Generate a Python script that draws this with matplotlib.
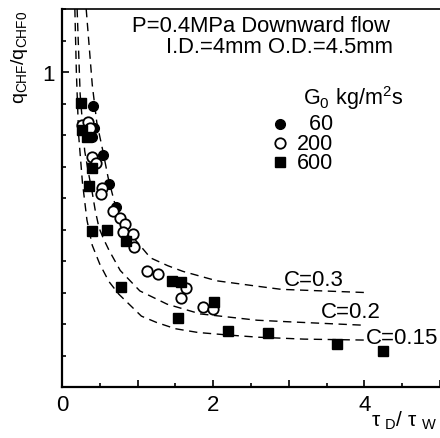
import matplotlib
matplotlib.use("Agg")
import matplotlib.pyplot as plt
import matplotlib.transforms as mtransforms
from matplotlib.ticker import MultipleLocator, FixedLocator, FuncFormatter

plt.rcParams['font.family'] = 'Liberation Sans'
plt.rcParams['mathtext.fontset'] = 'custom'
plt.rcParams['mathtext.rm'] = 'Liberation Sans'

# Datos
# G0 = 60 (circulo lleno)
x60 = [0.41, 0.42, 0.40, 0.54, 0.62, 0.72]
y60 = [0.892, 0.823, 0.794, 0.737, 0.646, 0.570]

# G0 = 200 (circulo abierto)
x200 = [0.26, 0.34, 0.37, 0.40, 0.45, 0.53, 0.52, 0.68, 0.77, 0.83, 0.81,
        0.94, 0.95, 1.13, 1.27, 1.64, 1.58, 1.87, 2.00]
y200 = [0.832, 0.842, 0.823, 0.731, 0.712, 0.633, 0.614, 0.560, 0.535, 0.516,
        0.491, 0.487, 0.443, 0.367, 0.358, 0.313, 0.282, 0.253, 0.247]

# G0 = 600 (cuadrado lleno)
x600 = [0.25, 0.26, 0.33, 0.40, 0.36, 0.40, 0.60, 0.85, 0.78, 1.46, 1.58,
        1.54, 2.01, 2.19, 2.73, 3.64, 4.24]
y600 = [0.902, 0.816, 0.794, 0.696, 0.639, 0.494, 0.500, 0.462, 0.316, 0.335,
        0.332, 0.218, 0.269, 0.177, 0.171, 0.136, 0.114]

# Curvas del modelo (C = 0.3, 0.2, 0.15)
xc30 = [0.32, 0.40, 0.46, 0.54, 0.61, 0.69, 0.77, 0.85, 0.96, 1.17, 1.40,
        1.60, 2.05, 2.58, 2.90, 4.00]
yc30 = [1.20, 0.96, 0.84, 0.75, 0.665, 0.59, 0.54, 0.505, 0.47, 0.41, 0.385,
        0.367, 0.337, 0.32, 0.31, 0.30]
xc20 = [0.20, 0.24, 0.30, 0.35, 0.40, 0.44, 0.49, 0.55, 0.62, 0.77, 1.03,
        1.39, 1.83, 2.58, 3.00, 4.00]
yc20 = [1.20, 0.93, 0.75, 0.68, 0.617, 0.56, 0.505, 0.47, 0.435, 0.37, 0.305,
        0.263, 0.232, 0.212, 0.207, 0.196]
xc15 = [0.17, 0.19, 0.22, 0.27, 0.33, 0.40, 0.50, 0.62, 0.75, 0.90, 1.05,
        1.25, 1.50, 1.80, 2.20, 2.60, 3.20, 4.00]
yc15 = [1.20, 1.00, 0.80, 0.65, 0.53, 0.45, 0.39, 0.335, 0.295, 0.26, 0.225,
        0.205, 0.185, 0.173, 0.165, 0.158, 0.152, 0.149]

etiquetas_c = ['C=0.3', 'C=0.2', 'C=0.15']
pos_etiquetas = [(2.94, 0.342), (3.43, 0.24), (4.02, 0.158)]

etiquetas_g = ['  60', '200', '600']

fig = plt.figure(figsize=(4.4, 4.39), dpi=100)
ax = fig.add_axes([62 / 440, 51 / 439, 378 / 440, 378 / 439])

# Curvas discontinuas
for xc, yc in [(xc30, yc30), (xc20, yc20), (xc15, yc15)]:
    ax.plot(xc, yc, color='black', lw=1.0, dashes=(6, 4))

for txt, (tx, ty) in zip(etiquetas_c, pos_etiquetas):
    ax.text(tx, ty, txt, fontsize=16, va='center', ha='left')

# Datos experimentales
estilos = [
    dict(marker='o', ms=7, mfc='black', mec='black'),
    dict(marker='o', ms=7.5, mfc='white', mec='black', mew=1.3),
    dict(marker='s', ms=6.5, mfc='black', mec='black'),
]
for (xs, ys), st in zip([(x60, y60), (x200, y200), (x600, y600)], estilos):
    ax.plot(xs, ys, ls='none', **st)

# Leyenda manual
ax.text(0.638, 0.767, r'$\mathregular{G_0\ kg/m^2s}$', transform=ax.transAxes,
        fontsize=15.5, va='center', ha='left')
for i, (lab, st) in enumerate(zip(etiquetas_g, estilos)):
    yy = 0.696 - i * 0.0505
    ax.plot([0.577], [yy], ls='none', transform=ax.transAxes, clip_on=False, **st)
    ax.text(0.717, yy, lab, transform=ax.transAxes, fontsize=15.5,
            va='center', ha='right')

# Texto de condiciones
ax.text(0.868, 0.957, 'P=0.4MPa Downward flow', transform=ax.transAxes,
        fontsize=15.8, ha='right', va='center')
ax.text(0.876, 0.900, 'I.D.=4mm O.D.=4.5mm', transform=ax.transAxes,
        fontsize=15.8, ha='right', va='center')

# Ejes
ax.set_xlim(0, 5)
ax.set_ylim(0, 1.2)
ax.spines['right'].set_visible(False)
for s in ['left', 'bottom']:
    ax.spines[s].set_linewidth(1.6)
ax.spines['top'].set_linewidth(1.2)

ax.xaxis.set_major_locator(MultipleLocator(1))
ax.xaxis.set_minor_locator(MultipleLocator(0.5))
ax.xaxis.set_major_formatter(FuncFormatter(
    lambda v, p: '%d' % v if int(round(v)) % 2 == 0 else ''))
ax.yaxis.set_major_locator(FixedLocator([1.0]))
ax.yaxis.set_minor_locator(MultipleLocator(0.1))
ax.yaxis.set_major_formatter(FuncFormatter(lambda v, p: '1'))
ax.tick_params(which='both', direction='in', top=False, right=False,
               labelsize=16, width=1.2)
ax.tick_params(which='major', length=5, pad=5)
ax.tick_params(which='minor', length=3)

# Desplazar la etiqueta "0"
offset = mtransforms.ScaledTranslation(-10 / 100, 0, fig.dpi_scale_trans)
lbl0 = ax.get_xticklabels()[0]
lbl0.set_transform(lbl0.get_transform() + offset)

ax.text(0.992, -0.087, r'$\mathregular{τ_{\ D}/\ τ_{\ W}}$', transform=ax.transAxes,
        fontsize=15, ha='right', va='center')
fig.text(20 / 440, 1 - 57 / 439, r'$\mathregular{q_{CHF}/q_{CHF0}}$',
         rotation=90, fontsize=14, ha='center', va='center')

fig.savefig('out.png', dpi=100)
